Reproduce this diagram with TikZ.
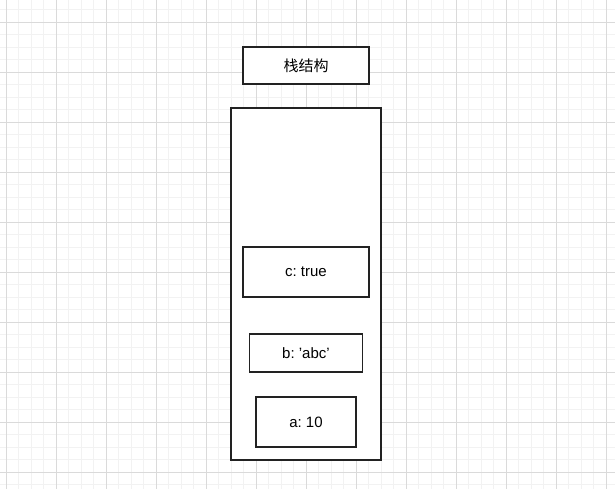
\documentclass[tikz,border=0pt]{standalone}
\usepackage{fontspec}
\setmainfont{Liberation Sans}
\newfontfamily\cjk{Noto Sans CJK SC}
\frenchspacing
\definecolor{gridminor}{HTML}{F2F2F2}
\definecolor{gridmajor}{HTML}{DADADA}
\definecolor{edge}{HTML}{222222}
\begin{document}
\begin{tikzpicture}[x=1pt,y=-1pt,
  box/.style={draw=edge,line width=1.1pt,fill=white,rectangle,inner sep=0pt,font=\fontsize{15}{18}\selectfont},
  holder/.style={draw=edge,line width=1.1pt,rectangle,inner sep=0pt}]
\useasboundingbox (0,0) rectangle (615,489);
\fill[white] (0,0) rectangle (615,489);
% minor grid
\foreach \i in {0,...,49} {
  \draw[gridminor,line width=0.8pt] ({6+12.5*\i},0) -- ({6+12.5*\i},489);
}
\foreach \j in {0,...,38} {
  \draw[gridminor,line width=0.8pt] (0,{9.5+12.5*\j}) -- (615,{9.5+12.5*\j});
}
% major grid
\foreach \i in {0,...,12} {
  \draw[gridmajor,line width=0.8pt] ({6+50*\i},0) -- ({6+50*\i},489);
}
\foreach \j in {0,...,9} {
  \draw[gridmajor,line width=0.8pt] (0,{22+50*\j}) -- (615,{22+50*\j});
}
\node[box,minimum width=126pt,minimum height=37pt] (title) at (306,65.5) {\cjk 栈结构};
\node[holder,fill=white,minimum width=150pt,minimum height=352pt] (stack) at (306,284) {};
\node[box,minimum width=126pt,minimum height=50pt] (c) at (306,272) {c: true};
\node[box,minimum width=113pt,minimum height=38pt] (b) at (306,353) {b: \symbol{39}abc\symbol{39}};
\node[box,minimum width=100pt,minimum height=50pt] (a) at (306,422) {a: 10};
\end{tikzpicture}
\end{document}
